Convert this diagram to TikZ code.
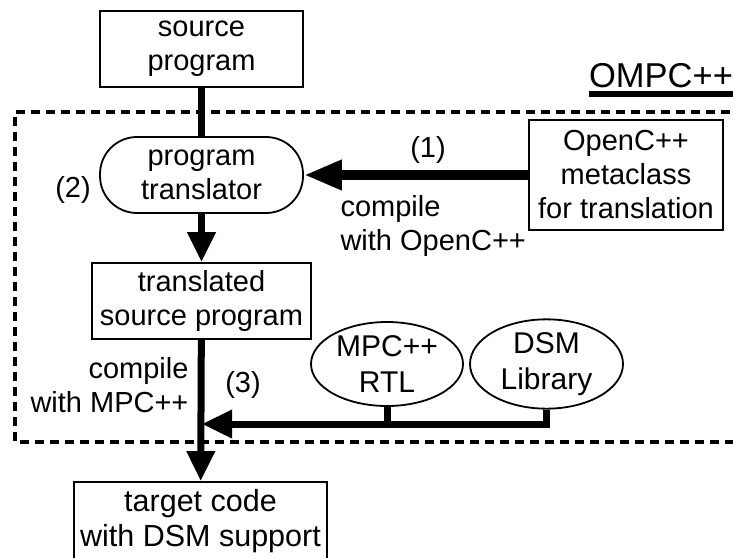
\documentclass[tikz,border=0pt]{standalone}
\usepackage{fontspec}
\setmainfont{Liberation Sans}
\usetikzlibrary{arrows.meta,shapes.geometric}

\tikzset{
  box/.style={draw, line width=1.8pt, align=center, inner sep=0pt},
  oval/.style={box, ellipse},
  flow/.style={line width=7pt},
  flowarrow/.style={flow, -{Triangle[length=30pt,width=27pt]}},
  bigarrow/.style={line width=10pt, -{Triangle[length=38pt,width=28pt]}},
  border/.style={line width=3.3pt, dash pattern=on 9pt off 6pt}
}

\begin{document}
\begin{tikzpicture}[x=1pt, y=-1pt, every node/.style={font=\fontsize{29}{34}\selectfont}]
\useasboundingbox (0,0) rectangle (733,557);

\draw[border] (745,112) -- (15,112) -- (15,442) -- (745,442);
\node (title) at (661,76) {\fontsize{34.5}{40}\selectfont OMPC++};
\draw[line width=5.7pt] (589,94) -- (745,94);

\node[box, minimum width=203pt, minimum height=76pt] (src) at (201.5,49) {source\\program};
\node[box, rounded corners=37pt, minimum width=203pt, minimum height=76pt] (trans) at (201.5,175) {program\\translator};
\node[box, minimum width=219pt, minimum height=76pt] (tsp) at (201.5,301) {translated\\source program};
\node[box, minimum width=253pt, minimum height=78pt, font=\fontsize{30.5}{35}\selectfont] (target) at (200.5,521) {target code\\with DSM support};
\node[box, minimum width=194pt, minimum height=110pt] (meta) at (626,175) {OpenC++\\metaclass\\for translation};
\node[oval, minimum width=152pt, minimum height=84pt, font=\fontsize{30}{36}\selectfont] (rtl) at (387,364) {MPC++\\RTL};
\node[oval, minimum width=153pt, minimum height=84pt, font=\fontsize{30}{36}\selectfont] (dsm) at (546.5,364) {DSM\\Library};
\coordinate (merge) at (202,424);

\node (one) at (428,150) {(1)};
\node (two) at (73,190) {(2)};
\node (three) at (243,385) {(3)};
\node[anchor=west, align=left] (occ) at (337,226) {compile\\with OpenC++};
\node[anchor=east, align=right] (mcc) at (192,385) {compile\\with MPC++};

\draw[flow] (src) -- (trans);
\draw[flowarrow] (trans) -- (tsp);
\draw[bigarrow] (meta) -- (trans);
\draw[flowarrow] (tsp) -- (target);
\draw[flow] (rtl.south) -- (rtl.south |- merge);
\draw[flowarrow, line join=miter] (dsm.south) |- (merge);
\end{tikzpicture}
\end{document}
